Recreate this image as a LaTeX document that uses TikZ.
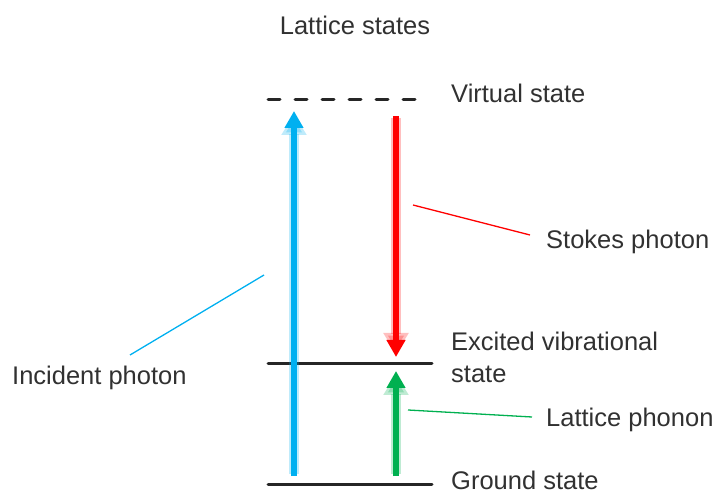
\documentclass[tikz,border=0pt]{standalone}
\usepackage{fontspec}
\setmainfont{Liberation Sans}
\usetikzlibrary{arrows.meta}
\definecolor{lblue}{HTML}{00B0F0}
\definecolor{lred}{HTML}{FF0000}
\definecolor{lgreen}{HTML}{00B050}
\definecolor{lev}{HTML}{262626}
\begin{document}
\begin{tikzpicture}[x=1pt,y=-1pt,
  lbl/.style={font=\fontsize{25.5}{30}\selectfont, text=lev!95, inner sep=0pt, anchor=west},
  level/.style={line width=3pt, draw=lev, line cap=round},
  photon/.style={line width=6pt, -{Triangle[length=17pt,width=18pt]}},
  glow/.style={line width=10pt, opacity=0.25, -{Triangle[length=21pt,width=24pt]}},
  leader/.style={line width=1.3pt}]
\useasboundingbox (0,0) rectangle (718,494);
% levels
\coordinate (v1) at (268,100); \coordinate (v2) at (418,100);
\coordinate (e1) at (268,364); \coordinate (e2) at (432,364);
\coordinate (g1) at (268,484); \coordinate (g2) at (432,484);
\draw[level, dash pattern=on 12pt off 15pt, line cap=round] (v1) -- (v2);
\draw[level] (e1) -- (e2);
\draw[level] (g1) -- (g2);
% arrows
\coordinate (b0) at (294,476); \coordinate (b1) at (294,111);
\coordinate (r0) at (396,116); \coordinate (r1) at (396,357);
\coordinate (n0) at (396,476); \coordinate (n1) at (396,371);
\draw[glow, lblue] ([yshift=2pt]b0) -- ([yshift=-3pt]b1);
\draw[photon, lblue] (b0) -- (b1);
\draw[glow, lred] ([yshift=-2pt]r0) -- ([yshift=3pt]r1);
\draw[photon, lred] (r0) -- (r1);
\draw[glow, lgreen] ([yshift=2pt]n0) -- ([yshift=-3pt]n1);
\draw[photon, lgreen] (n0) -- (n1);
% labels
\node[lbl, anchor=center] (t) at (355,25) {Lattice states};
\node[lbl] (vs) at (451,93) {Virtual state};
\node[lbl] (sp) at (546,242) {Stokes photon};
\node[lbl] (ex) at (451,341) {Excited vibrational};
\node[lbl] (ex2) at (451,374) {state};
\node[lbl] (lp) at (546,420) {Lattice phonon};
\node[lbl] (gs) at (451,480) {Ground state};
\node[lbl] (ip) at (12,378) {Incident photon};
% leaders
\coordinate (bl0) at (130,355); \coordinate (bl1) at (264,275);
\coordinate (rl0) at (413,205); \coordinate (rl1) at (530,235);
\coordinate (gl0) at (408,410); \coordinate (gl1) at (532,417);
\draw[leader, lblue] (bl0) -- (bl1);
\draw[leader, lred] (rl0) -- (rl1);
\draw[leader, lgreen] (gl0) -- (gl1);
\end{tikzpicture}
\end{document}
